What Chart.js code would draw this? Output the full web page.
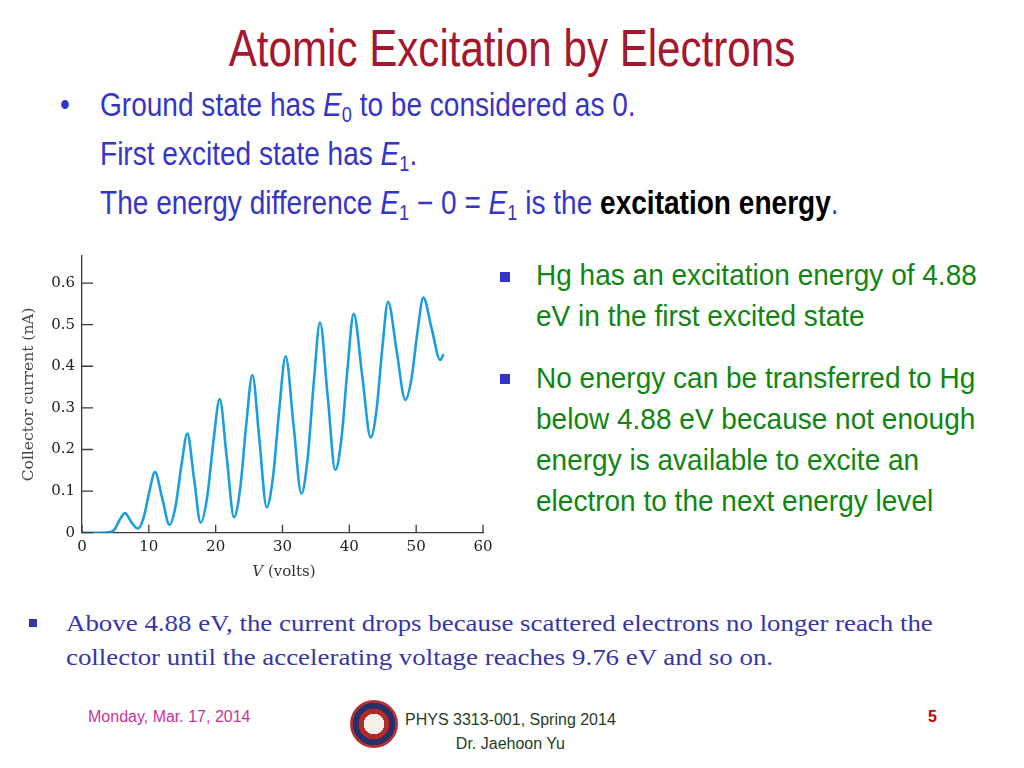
<!DOCTYPE html>
<html>
<head>
<meta charset="utf-8">
<script src="https://cdn.jsdelivr.net/npm/chart.js@4/dist/chart.umd.min.js"></script>
<style>
  body { margin: 0; width: 1024px; height: 768px; background: #fff; position: relative; overflow: hidden; font-family: "Liberation Sans Narrow", "Liberation Sans", sans-serif; }
  .abs { position: absolute; white-space: nowrap; }
  #title { left: 0; width: 1024px; top: 18px; text-align: center; font-size: 52px; color: #a3172f; transform: scaleX(0.81); transform-origin: 512px 0; }
  .blue { color: #3535c8; font-size: 33px; transform: scaleX(0.85); transform-origin: 0 0; }
  .green { color: #118511; font-size: 30px; line-height: 41px; transform: scaleX(0.934); transform-origin: 0 0; }
  .sq { position: absolute; width: 10px; height: 10px; background: #3333cc; }
  #bottom { left: 66px; top: 606px; font-family: "Liberation Serif", serif; font-size: 24px; color: #3636a8; line-height: 34px; transform: scaleX(1.12); transform-origin: 0 0; }
  #xTitle { left: 234px; width: 100px; top: 562px; text-align: center; font-family: "DejaVu Serif", serif; font-size: 15px; color: #333; }
  #chartBox { position: absolute; left: 0; top: 240px; width: 500px; height: 350px; }
  sub { font-size: 0.65em; vertical-align: -0.3em; font-style: normal; }
</style>
</head>
<body>
<div id="title" class="abs">Atomic Excitation by Electrons</div>

<div class="abs blue" style="left:60px; top:86px;">•</div>
<div class="abs blue" style="left:100px; top:86px;">Ground state has <i>E</i><sub>0</sub> to be considered as 0.</div>
<div class="abs blue" style="left:100px; top:135px;">First excited state has <i>E</i><sub>1</sub>.</div>
<div class="abs blue" style="left:100px; top:184px;">The energy difference <i>E</i><sub>1</sub> − 0 = <i>E</i><sub>1</sub> is the <b style="color:#000">excitation energy</b>.</div>

<div class="sq" style="left:500px; top:272px;"></div>
<div class="abs green" style="left:536px; top:254px;">Hg has an excitation energy of 4.88<br>eV in the first excited state</div>
<div class="sq" style="left:500px; top:374px;"></div>
<div class="abs green" style="left:536px; top:357px;">No energy can be transferred to Hg<br>below 4.88 eV because not enough<br>energy is available to excite an<br>electron to the next energy level</div>

<div class="sq" style="left:29px; top:619px; width:8px; height:8px; background:#3333aa;"></div>
<div id="bottom" class="abs">Above 4.88 eV, the current drops because scattered electrons no longer reach the<br>collector until the accelerating voltage reaches 9.76 eV and so on.</div>

<div class="abs" style="left:88px; top:708px; font-family:'Liberation Sans',sans-serif; font-size:16px; color:#cc3399;">Monday, Mar. 17, 2014</div>
<div class="abs" style="left:350px; top:700px; width:48px; height:48px; border-radius:50%; background:radial-gradient(circle, #f4f0e8 0 30%, #b32a2a 31% 45%, #26306b 46% 62%, #b33030 63% 100%);"></div>
<div class="abs" style="left:405px; top:708px; font-family:'Liberation Sans',sans-serif; font-size:16px; color:#1f3d1f; text-align:center; line-height:24px;">PHYS 3313-001, Spring 2014<br>Dr. Jaehoon Yu</div>
<div class="abs" style="left:928px; top:708px; font-family:'Liberation Sans',sans-serif; font-size:16px; font-weight:bold; color:#cc0000;">5</div>

<div id="chartBox"><canvas id="chart"></canvas></div>
<div id="xTitle" class="abs"><i>V</i> (volts)</div>

<script>
// Franck-Hertz curve: V (volts) and collector current (nA)
const voltage = [0, 2, 4, 4.8, 5.6, 6.43, 7.4, 8.38,
  9.23, 10.07, 10.92, 12.0, 13.1,
  13.99, 14.87, 15.76, 16.76, 17.76,
  18.71, 19.65, 20.6, 21.67, 22.74,
  23.66, 24.57, 25.49, 26.56, 27.63,
  28.58, 29.52, 30.47, 31.65, 32.82,
  33.75, 34.68, 35.61, 36.76, 37.9,
  38.82, 39.73, 40.65, 41.92, 43.19,
  44.06, 44.92, 45.79, 47.08, 48.38,
  49.28, 50.17, 51.07, 52.33, 53.6, 54.1];
const current = [0, 0, 0.001, 0.006, 0.03, 0.047, 0.025, 0.010,
  0.037, 0.098, 0.146, 0.083, 0.019,
  0.063, 0.161, 0.238, 0.131, 0.024,
  0.083, 0.217, 0.321, 0.179, 0.037,
  0.105, 0.259, 0.379, 0.22, 0.061,
  0.134, 0.297, 0.424, 0.259, 0.094,
  0.176, 0.361, 0.505, 0.328, 0.151,
  0.226, 0.395, 0.526, 0.378, 0.229,
  0.294, 0.441, 0.555, 0.437, 0.319,
  0.368, 0.479, 0.565, 0.49, 0.415, 0.429];
const xTicks = [0, 10, 20, 30, 40, 50, 60];
const yTicks = [0, 0.1, 0.2, 0.3, 0.4, 0.5, 0.6];
const yTickLabels = ['0', '0.1', '0.2', '0.3', '0.4', '0.5', '0.6'];

const axisColor = '#3a3a3a';
const tickFont = { family: 'DejaVu Serif', size: 15 };

// tick marks point into the plot, like the textbook figure
const innerTicks = {
  id: 'innerTicks',
  afterDatasetsDraw(chart) {
    const { ctx, scales: { x, y } } = chart;
    ctx.save();
    ctx.strokeStyle = axisColor;
    ctx.lineWidth = 1.3;
    ctx.beginPath();
    xTicks.forEach(v => {
      const px = x.getPixelForValue(v);
      ctx.moveTo(px, y.bottom);
      ctx.lineTo(px, y.bottom - 8);
    });
    yTicks.forEach(v => {
      const py = y.getPixelForValue(v);
      ctx.moveTo(x.left, py);
      ctx.lineTo(x.left + 11, py);
    });
    ctx.stroke();
    ctx.restore();
  }
};

new Chart(document.getElementById('chart'), {
  type: 'line',
  data: {
    datasets: [{
      data: voltage.map((v, i) => ({ x: v, y: current[i] })),
      borderColor: '#1b9ede',
      borderWidth: 2.6,
      pointRadius: 0,
      cubicInterpolationMode: 'monotone',
      fill: false
    }]
  },
  options: {
    responsive: true,
    maintainAspectRatio: false,
    animation: false,
    layout: { padding: { left: 0, top: 7, right: 17, bottom: 0 } },
    plugins: { legend: { display: false }, tooltip: { enabled: false } },
    scales: {
      x: {
        type: 'linear',
        min: 0,
        max: 60,
        afterBuildTicks: s => { s.ticks = xTicks.map(v => ({ value: v })); },
        afterFit: s => { s.height = 57.3; },
        grid: { drawOnChartArea: false, drawTicks: false },
        border: { display: true, color: axisColor, width: 1.3 },
        ticks: { color: '#222', font: tickFont, padding: 5, maxRotation: 0 }
      },
      y: {
        type: 'linear',
        min: 0,
        max: 0.665,
        afterBuildTicks: s => { s.ticks = yTicks.map(v => ({ value: v })); },
        afterFit: s => { s.width = 82; },
        grid: { drawOnChartArea: false, drawTicks: false },
        border: { display: true, color: axisColor, width: 1.3 },
        ticks: {
          color: '#222',
          font: tickFont,
          padding: 7,
          callback: (v, i) => yTickLabels[i]
        },
        title: {
          display: true,
          text: 'Collector current (nA)',
          color: '#444',
          font: { family: 'DejaVu Serif', size: 15.5 },
          padding: { top: 20, bottom: 0 }
        }
      }
    }
  },
  plugins: [innerTicks]
});
</script>
</body>
</html>
